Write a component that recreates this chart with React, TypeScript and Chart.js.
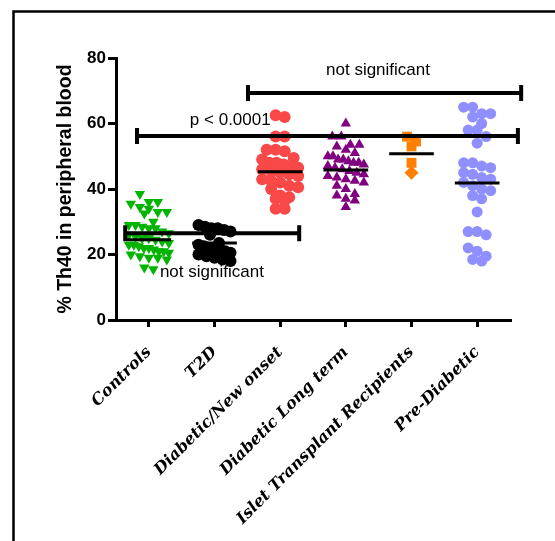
import React, { useEffect, useRef } from 'react';
import { Chart, registerables } from 'chart.js';
Chart.register(...registerables);

const categories = ['Controls', 'T2D', 'Diabetic/New onset', 'Diabetic Long term', 'Islet Transplant Recipients', 'Pre-Diabetic'];

const controls = [38.5, 36, 36, 35.5, 34.5, 34, 33, 33, 32.5, 30, 29, 29, 28.5, 28, 28, 27, 26.5, 26, 25.5, 25, 25, 24.5, 24, 23.5, 23, 23, 22.5, 22, 22, 21.5, 21, 21, 20.5, 20, 19.5, 19, 19, 18.5, 16, 15.5];
const t2d = [29, 28.5, 28, 28, 27.5, 27, 26, 23.5, 23, 22.5, 22, 22, 21.5, 21, 20.5, 20, 19.5, 19, 18.5, 18];
const newOnset = [62.5, 62, 56, 56, 52, 52, 51.5, 49.5, 49, 48, 48, 47.5, 47, 46.5, 46, 45.5, 45, 44.5, 44, 43, 42.5, 42, 41, 40.5, 40, 38, 37.5, 37, 36.5, 34, 34];
const longTerm = [60, 56, 56, 53.5, 53.5, 53, 52, 51, 50, 50, 49, 49, 48.5, 48, 48, 47.5, 47, 46.5, 46, 45.5, 45, 44.5, 44, 43.5, 43, 42.5, 42, 41, 40, 38.5, 38, 37, 36.5, 34.5];
const islet = [56, 54.5, 53, 48, 45];
const preDiabetic = [65, 65, 63, 63, 62, 60, 58, 58, 56, 54, 48, 48, 47, 46.5, 45, 44.5, 43.5, 43, 42, 41, 40, 39.5, 38, 37, 33, 27, 27, 26, 22, 21, 19.5, 18.5, 18];

const groupMeans = [24.5, 23.5, 45.3, 45.8, 50.8, 41.8];
const yTickValues = [0, 20, 40, 60, 80];

// significance brackets (in data units)
const sigFrom = [-0.18, 1.51, -0.36];
const sigTo = [5.62, 5.67, 2.29];
const sigLevel = [56.2, 69.3, 26.5];
const sigText = ['p < 0.0001', 'not significant', 'not significant'];
const sigTextX = [1.24, 3.49, 0.96];
const sigTextY = [61, 76.3, 14.7];

// approximate pixel size of one x data unit (for the scatter column layout)
const X_UNIT_PX = 394 / 6;

// GraphPad-like column scatter: group close values into rows, spread each row symmetrically
function column(values: number[], center: number, rowH: number, gapPx: number, halfPx: number) {
  const order = values.map((v, i) => i).sort((a, b) => values[b] - values[a]);
  const rows: number[][] = [];
  let cur: number[] = [];
  let start = Infinity;
  for (const idx of order) {
    if (cur.length && start - values[idx] > rowH) { rows.push(cur); cur = []; }
    if (!cur.length) start = values[idx];
    cur.push(idx);
  }
  if (cur.length) rows.push(cur);
  const xs: number[] = new Array(values.length);
  for (const r of rows) {
    const n = r.length;
    const sp = n > 1 ? Math.min(gapPx, (2 * halfPx) / (n - 1)) : 0;
    r.forEach((idx, j) => { xs[idx] = center + ((j - (n - 1) / 2) * sp) / X_UNIT_PX; });
  }
  return values.map((v, i) => ({ x: xs[i], y: v }));
}

const overlayPlugin = {
  id: 'overlay',
  beforeDraw(chart: any) {
    const ctx = chart.ctx;
    ctx.save();
    ctx.fillStyle = '#ffffff';
    ctx.fillRect(0, 0, chart.width, chart.height);
    ctx.strokeStyle = '#000';
    ctx.lineWidth = 2.5;
    ctx.beginPath();
    ctx.moveTo(13.5, chart.height);
    ctx.lineTo(13.5, 11.5);
    ctx.lineTo(chart.width, 11.5);
    ctx.stroke();
    ctx.restore();
  },
  afterDatasetsDraw(chart: any) {
    const ctx = chart.ctx;
    const xs = chart.scales.x;
    const ys = chart.scales.y;
    ctx.save();
    ctx.strokeStyle = '#000';
    ctx.lineWidth = 3;
    groupMeans.forEach((m, i) => {
      const py = ys.getPixelForValue(m);
      ctx.beginPath();
      ctx.moveTo(xs.getPixelForValue(i - 0.34), py);
      ctx.lineTo(xs.getPixelForValue(i + 0.34), py);
      ctx.stroke();
    });
    ctx.lineWidth = 4;
    sigLevel.forEach((lv, i) => {
      const py = ys.getPixelForValue(lv);
      const x1 = xs.getPixelForValue(sigFrom[i]);
      const x2 = xs.getPixelForValue(sigTo[i]);
      ctx.beginPath();
      ctx.moveTo(x1, py);
      ctx.lineTo(x2, py);
      ctx.moveTo(x1, py - 8);
      ctx.lineTo(x1, py + 8);
      ctx.moveTo(x2, py - 8);
      ctx.lineTo(x2, py + 8);
      ctx.stroke();
    });
    ctx.fillStyle = '#000';
    ctx.font = '17px "Liberation Sans", Arial, sans-serif';
    ctx.textAlign = 'center';
    ctx.textBaseline = 'middle';
    sigText.forEach((t, i) => {
      ctx.fillText(t, xs.getPixelForValue(sigTextX[i]), ys.getPixelForValue(sigTextY[i]));
    });
    ctx.restore();
  },
};

export default function App() {
  const ref = useRef<HTMLCanvasElement>(null);
  useEffect(() => {
    if (!ref.current) return;
    const mk = (data: number[], i: number, color: string, style: any, radius: number, halfPx: number, rotation = 0) => ({
      data: column(data, i, 2.6, 9, halfPx),
      backgroundColor: color,
      borderColor: color,
      borderWidth: 0,
      pointStyle: style,
      pointRadius: radius,
      pointRotation: rotation,
    });
    const chart = new Chart(ref.current, {
      type: 'scatter',
      data: {
        datasets: [
          mk(controls, 0, '#00b400', 'triangle', 6, 20, 180),
          mk(t2d, 1, '#000000', 'circle', 6, 16),
          mk(newOnset, 2, '#f84848', 'circle', 6, 18),
          mk(longTerm, 3, '#800080', 'triangle', 6, 18),
          { ...mk(islet, 4, '#ff8000', 'rect', 7, 8), pointStyle: ['rect', 'rect', 'rect', 'rect', 'rectRot'] },
          mk(preDiabetic, 5, '#8f8fff', 'circle', 5.5, 16),
        ],
      },
      plugins: [overlayPlugin],
      options: {
        animation: false,
        responsive: false,
        devicePixelRatio: 1,
        layout: { padding: { left: 13, top: 58, right: 45, bottom: 0 } },
        plugins: { legend: { display: false }, tooltip: { enabled: false } },
        scales: {
          x: {
            type: 'linear',
            min: -0.5,
            max: 5.5,
            afterBuildTicks: (s: any) => { s.ticks = categories.map((c, i) => ({ value: i })); },
            afterFit: (s: any) => { s.height = 221; },
            grid: { drawOnChartArea: false, drawTicks: true, tickLength: 7, lineWidth: 3, color: '#000' },
            border: { display: true, width: 3, color: '#000' },
            ticks: {
              autoSkip: false,
              minRotation: 45,
              maxRotation: 45,
              padding: 16,
              color: '#000',
              font: { family: '"DejaVu Serif", serif', style: 'italic', weight: 'bold', size: 16 },
              callback: (v: any) => categories[Math.round(Number(v))] ?? '',
            },
          },
          y: {
            min: 0,
            max: 80,
            afterBuildTicks: (s: any) => { s.ticks = yTickValues.map((v) => ({ value: v })); },
            afterFit: (s: any) => { s.width = 103; },
            grid: { drawOnChartArea: false, drawTicks: true, tickLength: 8, lineWidth: 3, color: '#000' },
            border: { display: true, width: 3, color: '#000' },
            ticks: {
              padding: 2,
              color: '#000',
              font: { family: '"Liberation Sans", Arial, sans-serif', weight: 'bold', size: 17 },
            },
            title: {
              display: true,
              text: '% Th40 in peripheral blood',
              color: '#000',
              padding: { top: 41, bottom: 0 },
              font: { family: '"Liberation Sans", Arial, sans-serif', weight: 'bold', size: 19.5 },
            },
          },
        },
      },
    } as any);
    return () => chart.destroy();
  }, []);
  return (
    <div style={{ position: 'absolute', left: 0, top: 0, width: 555, height: 541 }}>
      <canvas ref={ref} width={555} height={541} style={{ display: 'block' }} />
    </div>
  );
}
